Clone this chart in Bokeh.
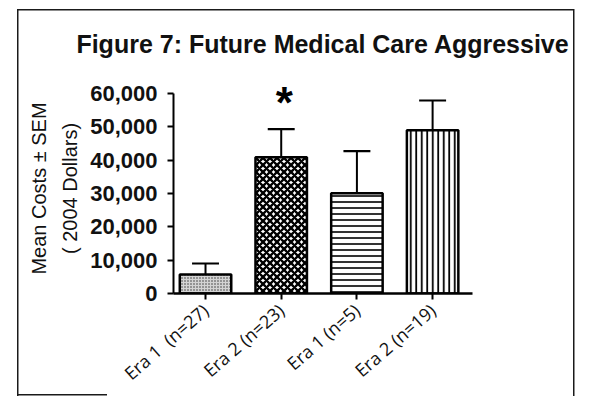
from bokeh.plotting import figure
from bokeh.models import Range1d, Title, FixedTicker, NumeralTickFormatter
from bokeh.embed import file_html
from bokeh.resources import INLINE
from bokeh.core.properties import value

# ---- data ----
title_text = "Figure 7: Future Medical Care Aggressive"
y_label_1 = "Mean Costs \u00b1 SEM"
y_label_2 = "( 2004 Dollars)"
categories = ["Era 1\u00a0 (n=27)", "Era 2 (n=23)", "Era 1 (n=5)", "Era 2 (n=19)"]
means = [5700, 40900, 30100, 49000]
sems = [3300, 8400, 12600, 8900]
y_ticks = [0, 10000, 20000, 30000, 40000, 50000, 60000]
star_bar = 1          # index of the bar marked as significant
star_text = "*"

# ---- styles ----
bar_styles = [
    dict(fill_color="#d4d4d4", hatch_pattern="dot", hatch_scale=3, hatch_weight=1, hatch_color="#333333"),
    dict(fill_color="white", hatch_pattern="diagonal_cross", hatch_scale=7, hatch_weight=2.3, hatch_color="black"),
    dict(fill_color="white", hatch_pattern="horizontal_line", hatch_scale=6, hatch_weight=1.6, hatch_color="black"),
    dict(fill_color="white", hatch_pattern="vertical_line", hatch_scale=5.5, hatch_weight=1.8, hatch_color="black"),
]

xs = list(range(1, len(categories) + 1))
tops = [m + s for m, s in zip(means, sems)]

p = figure(width=575, height=396,
           x_range=Range1d(0.577, 4.527), y_range=Range1d(0, 63000),
           output_backend="svg", toolbar_location=None,
           min_border_left=173, min_border_right=103,
           min_border_top=83, min_border_bottom=102)

# scanned page frame (drawn as CSS background lines behind a transparent canvas)
line_col = "linear-gradient(#1a1a1a, #1a1a1a)"
p.border_fill_color = None
p.background_fill_color = None
p.styles = {
    "background-color": "white",
    "background-image": ", ".join([line_col] * 4),
    "background-position": "17px 9px, 17px 9px, 573px 9px, 17px 394px",
    "background-size": "1.5px 387px, 557px 1.5px, 1.5px 387px, 90px 1.5px",
    "background-repeat": "no-repeat",
}

p.title.text = title_text
p.title.align = "center"
p.title.text_font = "Liberation Sans"
p.title.text_font_size = "25px"
p.title.text_font_style = "bold"
p.title.text_color = "#111111"
p.title.standoff = 52

p.add_layout(Title(text=y_label_2, align="center", text_font="Liberation Sans",
                   text_font_size="20px", text_font_style="normal",
                   text_color="#111111", standoff=13), "left")
p.add_layout(Title(text=y_label_1, align="center", text_font="Liberation Sans",
                   text_font_size="20px", text_font_style="normal",
                   text_color="#111111", standoff=1), "left")

# error bars (upper only)
cap = 0.178
p.segment(x0=xs, y0=means, x1=xs, y1=tops, line_color="black", line_width=2)
p.segment(x0=[x - cap for x in xs], y0=tops, x1=[x + cap for x in xs], y1=tops,
          line_color="black", line_width=2.2)

# bars
for x, m, st in zip(xs, means, bar_styles):
    p.vbar(x=[x], top=[m], bottom=0, width=0.68, line_color="black", line_width=2.5, **st)

# significance marker
p.text(x=[xs[star_bar]], y=[means[star_bar] + sems[star_bar]], text=[star_text],
       x_offset=3, y_offset=-27,
       text_align="center", text_baseline="middle",
       text_font=value("Liberation Sans"), text_font_size="44px",
       text_font_style="bold", text_color="black")

# axes
p.xgrid.grid_line_color = None
p.ygrid.grid_line_color = None
p.outline_line_color = None

ya = p.yaxis[0]
ya.ticker = FixedTicker(ticks=y_ticks)
ya.formatter = NumeralTickFormatter(format="0,0")
ya.bounds = (0, 60000)
ya.axis_line_width = 2
ya.major_tick_line_width = 2
ya.major_tick_out = 6
ya.major_tick_in = 0
ya.minor_tick_out = 0
ya.minor_tick_in = 0
ya.major_label_text_font = "Liberation Sans"
ya.major_label_text_font_size = "22px"
ya.major_label_text_font_style = "bold"
ya.major_label_text_color = "#111111"
ya.major_label_standoff = 10

xa = p.xaxis[0]
xa.ticker = FixedTicker(ticks=xs)
xa.major_label_overrides = {x: c for x, c in zip(xs, categories)}
xa.major_label_orientation = 0.715
xa.axis_line_width = 2.5
xa.major_tick_line_width = 2
xa.major_tick_out = 6
xa.major_tick_in = 0
xa.minor_tick_out = 0
xa.minor_tick_in = 0
xa.major_label_text_font = "Open Sans"
xa.major_label_text_font_size = "18px"
xa.major_label_text_color = "#111111"
xa.major_label_standoff = 8

open("out.html", "w").write(file_html(p, INLINE))
